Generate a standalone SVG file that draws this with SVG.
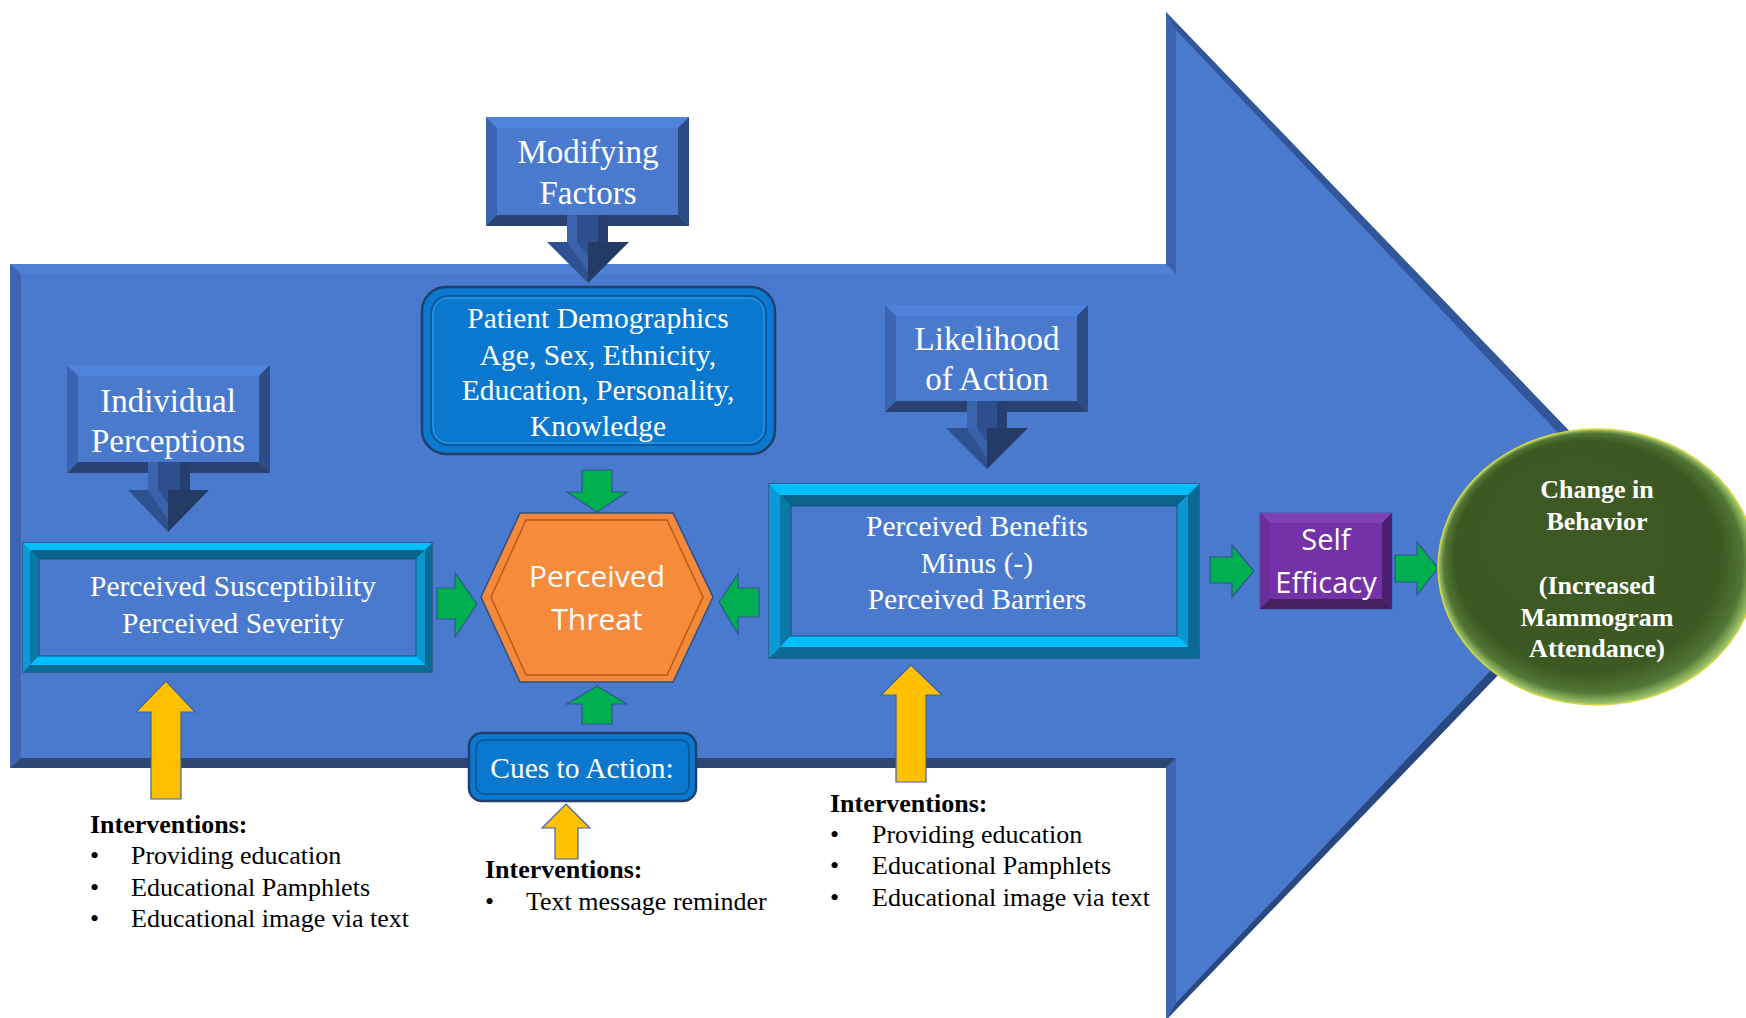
<svg xmlns="http://www.w3.org/2000/svg" width="1746" height="1018" viewBox="0 0 1746 1018">
<style>
.serif{font-family:"Liberation Serif","Times New Roman",serif}
.sans{font-family:"Open Sans","Liberation Sans",sans-serif}
.w{fill:#ffffff;text-anchor:middle}
.hdr{font-size:33px}
.bd{font-size:29.5px}
.blk{fill:#000000}
.ib{font-size:26px;font-weight:bold}
.it{font-size:26px}
.green{fill:#00B050;stroke:#2F5597;stroke-width:1.2}
.yellow{fill:#FFC000;stroke:#3A63A8;stroke-width:1.2}
.face{fill:#4A7ACE}
</style>
<defs>
<radialGradient id="gc" cx="50%" cy="50%" r="50%" fx="32%" fy="26%">
<stop offset="0" stop-color="#3D5A24"/>
<stop offset="0.84" stop-color="#3C5923"/>
<stop offset="0.94" stop-color="#527634"/>
<stop offset="1" stop-color="#A6CF72"/>
</radialGradient>
</defs>
<rect width="1746" height="1018" fill="#ffffff"/>

<g id="big-arrow">
<polygon points="10,264 1166,264 1166,12 1651,516 1166,1020 1166,768 10,768" fill="#4A7ACE"/>
<polygon points="10,264 21,274 21,758 10,768" fill="#3C65B3"/>
<polygon points="10,264 1166,264 1176,274 21,274" fill="#4E80D6"/>
<polygon points="1166,12 1176,30 1176,274 1166,264" fill="#3A62AD"/>
<polygon points="1166,12 1651,516 1637,516 1176,30" fill="#31579A"/>
<polygon points="1651,516 1166,1020 1176,1003 1637,516" fill="#294880"/>
<polygon points="1166,768 1176,758 1176,1003 1166,1020" fill="#3C65B3"/>
<polygon points="10,768 21,758 1176,758 1166,768" fill="#2D4775"/>
</g>

<g id="individual-perceptions">
<rect x="67" y="365" width="203" height="108" class="face"/>
<polygon points="67,365 270,365 259,376 78,376" fill="#4F83DB"/>
<polygon points="67,365 78,376 78,462 67,473" fill="#3A64B2"/>
<polygon points="270,365 270,473 259,462 259,376" fill="#2C4C86"/>
<polygon points="67,473 78,462 259,462 270,473" fill="#2A4272"/>
<rect x="148" y="462" width="42" height="28" fill="#2E4F8C"/>
<rect x="148" y="462" width="10" height="28" fill="#3B64AF"/>
<rect x="180" y="462" width="10" height="28" fill="#253F6E"/>
<polygon points="128,490 168,490 168,532" fill="#2F5192"/>
<polygon points="168,490 209,490 168,532" fill="#243B66"/>
<polygon points="148,490 158,490 168,504 168,520" fill="#3A62AA"/>
<text class="serif w hdr" x="168" y="412">Individual</text>
<text class="serif w hdr" x="168" y="452">Perceptions</text>
</g>

<g id="modifying-factors">
<rect x="486" y="117" width="203" height="109" class="face"/>
<polygon points="486,117 689,117 678,128 497,128" fill="#4F83DB"/>
<polygon points="486,117 497,128 497,215 486,226" fill="#3A64B2"/>
<polygon points="689,117 689,226 678,215 678,128" fill="#2C4C86"/>
<polygon points="486,226 497,215 678,215 689,226" fill="#2A4272"/>
<rect x="567" y="215" width="41" height="27" fill="#2E4F8C"/>
<rect x="567" y="215" width="10" height="27" fill="#3B64AF"/>
<rect x="598" y="215" width="10" height="27" fill="#253F6E"/>
<polygon points="547,242 588,242 588,283" fill="#2F5192"/>
<polygon points="588,242 629,242 588,283" fill="#243B66"/>
<polygon points="567,242 577,242 588,256 588,272" fill="#3A62AA"/>
<text class="serif w hdr" x="588" y="163">Modifying</text>
<text class="serif w hdr" x="588" y="204">Factors</text>
</g>

<g id="likelihood-of-action">
<rect x="885" y="305" width="203" height="107" class="face"/>
<polygon points="885,305 1088,305 1077,316 896,316" fill="#4F83DB"/>
<polygon points="885,305 896,316 896,401 885,412" fill="#3A64B2"/>
<polygon points="1088,305 1088,412 1077,401 1077,316" fill="#2C4C86"/>
<polygon points="885,412 896,401 1077,401 1088,412" fill="#2A4272"/>
<rect x="967" y="401" width="40" height="27" fill="#2E4F8C"/>
<rect x="967" y="401" width="10" height="27" fill="#3B64AF"/>
<rect x="997" y="401" width="10" height="27" fill="#253F6E"/>
<polygon points="946,428 987,428 987,469" fill="#2F5192"/>
<polygon points="987,428 1028,428 987,469" fill="#243B66"/>
<polygon points="967,428 977,428 987,442 987,458" fill="#3A62AA"/>
<text class="serif w hdr" x="987" y="350">Likelihood</text>
<text class="serif w hdr" x="987" y="390">of Action</text>
</g>

<g id="patient-demographics">
<rect x="422" y="287" width="353" height="167" rx="24" fill="#0B79CF" stroke="#1F3F6E" stroke-width="2.5"/>
<rect x="431" y="296" width="335" height="149" rx="17" fill="none" stroke="#0A5A9E" stroke-width="2"/>
<rect x="433" y="298" width="331" height="145" rx="15" fill="#0A78CE" stroke="#3FA0E8" stroke-width="1"/>
<text class="serif w bd" x="598" y="328">Patient Demographics</text>
<text class="serif w bd" x="598" y="365">Age, Sex, Ethnicity,</text>
<text class="serif w bd" x="598" y="400">Education, Personality,</text>
<text class="serif w bd" x="598" y="436">Knowledge</text>
</g>

<g id="perceived-susceptibility">
<rect x="23" y="543" width="409" height="129" fill="#00BFFF" stroke="#1F4E79" stroke-width="1.2"/>
<polygon points="23,543 432,543 425,550 30,550" fill="#00BFFF"/>
<polygon points="23,543 30,550 30,665 23,672" fill="#0A9AD6"/>
<polygon points="432,543 432,672 425,665 425,550" fill="#0A6A94"/>
<polygon points="23,672 30,665 425,665 432,672" fill="#0A6A94"/>
<polygon points="30,550 425,550 416,559 39,559" fill="#0B6389"/>
<polygon points="30,550 39,559 39,656 30,665" fill="#0B78A6"/>
<polygon points="425,550 425,665 416,656 416,559" fill="#0A96CE"/>
<polygon points="30,665 39,656 416,656 425,665" fill="#00BFFF"/>
<rect x="39" y="559" width="377" height="97" class="face" stroke="#1F4E79" stroke-width="1"/>
<text class="serif w bd" x="233" y="596">Perceived Susceptibility</text>
<text class="serif w bd" x="233" y="633">Perceived Severity</text>
</g>

<g id="perceived-threat">
<polygon points="481,597 520,513 673,513 713,597 673,682 520,682" fill="#F4893B" stroke="#2F4F7F" stroke-width="1.5"/>
<polygon points="491,597 526,520 667,520 703,597 667,675 526,675" fill="#F68B3C" stroke="#B85A18" stroke-width="1.5"/>
<text class="sans w" font-size="30" x="597" y="587">Perceived</text>
<text class="sans w" font-size="30" x="597" y="630">Threat</text>
</g>

<g id="perceived-benefits">
<rect x="769" y="484" width="430" height="174" fill="#00BFFF" stroke="#1F4E79" stroke-width="1.2"/>
<polygon points="769,484 1199,484 1188,495 780,495" fill="#00BFFF"/>
<polygon points="769,484 780,495 780,647 769,658" fill="#0A9AD6"/>
<polygon points="1199,484 1199,658 1188,647 1188,495" fill="#0A6A94"/>
<polygon points="769,658 780,647 1188,647 1199,658" fill="#0A6A94"/>
<polygon points="780,495 1188,495 1177,506 791,506" fill="#0B6389"/>
<polygon points="780,495 791,506 791,636 780,647" fill="#0B78A6"/>
<polygon points="1188,495 1188,647 1177,636 1177,506" fill="#0A96CE"/>
<polygon points="780,647 791,636 1177,636 1188,647" fill="#00BFFF"/>
<rect x="791" y="506" width="386" height="130" class="face" stroke="#1F4E79" stroke-width="1"/>
<text class="serif w bd" x="977" y="536">Perceived Benefits</text>
<text class="serif w bd" x="977" y="573">Minus (-)</text>
<text class="serif w bd" x="977" y="609">Perceived Barriers</text>
</g>

<g id="cues-to-action">
<rect x="469" y="733" width="227" height="68" rx="13" fill="#0B79CF" stroke="#1F3F6E" stroke-width="2.5"/>
<rect x="476" y="740" width="213" height="54" rx="8" fill="#0A78CE" stroke="#0A5A9E" stroke-width="2"/>
<text class="serif w bd" x="582" y="778">Cues to Action:</text>
</g>

<g id="self-efficacy">
<rect x="1260" y="513" width="132" height="96" fill="#7532A8" stroke="#3A5F9F" stroke-width="1"/>
<polygon points="1260,513 1392,513 1382,523 1270,523" fill="#8040B8"/>
<polygon points="1260,513 1270,523 1270,599 1260,609" fill="#6A2E98"/>
<polygon points="1392,513 1392,609 1382,599 1382,523" fill="#4A2070"/>
<polygon points="1260,609 1270,599 1382,599 1392,609" fill="#44205F"/>
<text class="sans w" font-size="29" x="1326" y="550">Self</text>
<text class="sans w" font-size="29" x="1326" y="593">Efficacy</text>
</g>

<g id="connectors">
<polygon class="green" points="582,470 612,470 612,492 627,492 597,512 567,492 582,492"/>
<polygon class="green" points="597,686 627,704 612,704 612,724 582,724 582,704 567,704"/>
<polygon class="green" points="719,602 738,574 738,588 759,588 759,617 738,617 738,634"/>
<polygon class="green" points="437,588 455,588 455,573 477,604 455,637 455,619 437,619"/>
<polygon class="green" points="1210,557 1232,557 1232,545 1254,571 1232,597 1232,583 1210,583"/>
<polygon class="green" points="1395,555 1417,555 1417,542 1438,568 1417,595 1417,582 1395,582"/>
<polygon class="yellow" points="166,681 195,712 181,712 181,799 151,799 151,712 136,712"/>
<polygon class="yellow" points="566,804 590,828 578,828 578,859 555,859 555,828 542,828"/>
<polygon class="yellow" points="911,665 942,695 926,695 926,782 896,782 896,695 881,695"/>
</g>

<g id="change-in-behavior">
<ellipse cx="1597" cy="567" rx="159" ry="138" fill="url(#gc)" stroke="#D8D640" stroke-width="1.5"/>
<text class="serif w" font-size="26" font-weight="bold" x="1597" y="498">Change in</text>
<text class="serif w" font-size="26" font-weight="bold" x="1597" y="530">Behavior</text>
<text class="serif w" font-size="26" font-weight="bold" x="1597" y="594">(Increased</text>
<text class="serif w" font-size="26" font-weight="bold" x="1597" y="626">Mammogram</text>
<text class="serif w" font-size="26" font-weight="bold" x="1597" y="657">Attendance)</text>
</g>

<g id="interventions-left">
<text class="serif blk ib" x="90" y="833">Interventions:</text>
<text class="serif blk it" x="90" y="864">•</text>
<text class="serif blk it" x="131" y="864">Providing education</text>
<text class="serif blk it" x="90" y="896">•</text>
<text class="serif blk it" x="131" y="896">Educational Pamphlets</text>
<text class="serif blk it" x="90" y="927">•</text>
<text class="serif blk it" x="131" y="927">Educational image via text</text>
</g>

<g id="interventions-middle">
<text class="serif blk ib" x="485" y="878">Interventions:</text>
<text class="serif blk it" x="485" y="910">•</text>
<text class="serif blk it" x="526" y="910">Text message reminder</text>
</g>

<g id="interventions-right">
<text class="serif blk ib" x="830" y="812">Interventions:</text>
<text class="serif blk it" x="830" y="843">•</text>
<text class="serif blk it" x="872" y="843">Providing education</text>
<text class="serif blk it" x="830" y="874">•</text>
<text class="serif blk it" x="872" y="874">Educational Pamphlets</text>
<text class="serif blk it" x="830" y="906">•</text>
<text class="serif blk it" x="872" y="906">Educational image via text</text>
</g>
</svg>
